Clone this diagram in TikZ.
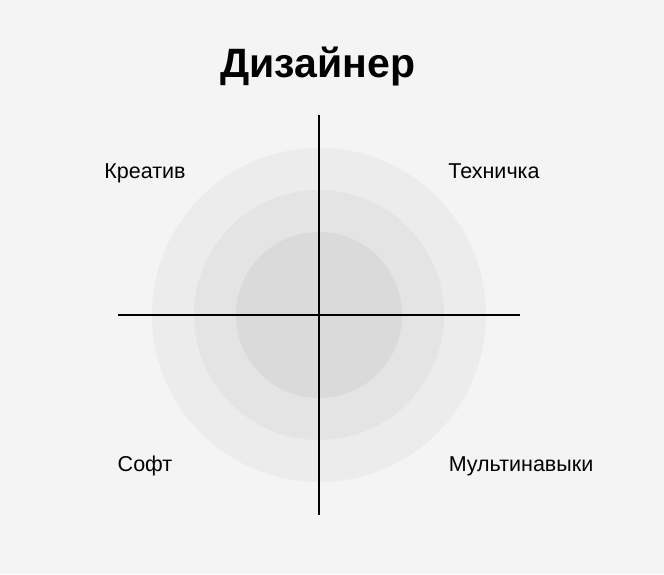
\documentclass[tikz,border=0pt]{standalone}
\usepackage{fontspec}
\setmainfont{Liberation Sans}
\definecolor{bgcol}{HTML}{F4F4F4}
\definecolor{ringa}{HTML}{ECECEC}
\definecolor{ringb}{HTML}{E4E4E4}
\definecolor{ringc}{HTML}{DADADA}
\tikzset{
  axis/.style={line width=1.2pt, black},
  quad/.style={anchor=base, font=\fontsize{21.5}{24}\selectfont},
  heading/.style={anchor=base, font=\fontsize{41}{45}\selectfont\bfseries}
}

\begin{document}
\begin{tikzpicture}[x=1pt, y=-1pt]
\fill[bgcol] (0,0) rectangle (664,574);
\useasboundingbox (0,0) rectangle (664,574);
\node[heading] (title) at (318,77) {Дизайнер};
% rings
\coordinate (c) at (319,315);
\fill[ringa] (c) circle (167pt);
\fill[ringb] (c) circle (125pt);
\fill[ringc] (c) circle (83pt);
% axes
\coordinate (west) at (118,315);
\coordinate (east) at (520,315);
\coordinate (north) at (319,115);
\coordinate (south) at (319,515);
\draw[axis] (west) -- (east);
\draw[axis] (north) -- (south);
% quadrant labels
\node[quad] (kreativ) at (145,178) {Креатив};
\node[quad] (tech) at (494,178) {Техничка};
\node[quad] (soft) at (145,471) {Софт};
\node[quad] (multi) at (521,471) {Мультинавыки};
\end{tikzpicture}
\end{document}
